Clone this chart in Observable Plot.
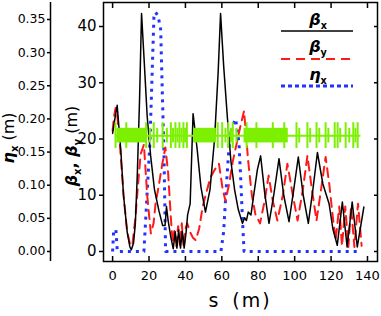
<!DOCTYPE html>
<html><head><meta charset="utf-8">
<script src="https://cdn.jsdelivr.net/npm/d3@7"></script>
<script src="https://cdn.jsdelivr.net/npm/@observablehq/plot@0.6"></script>
<style>html,body{margin:0;padding:0;background:#fff}</style>
</head><body><div id="chart"></div>
<script>
// ---- data ----
const betaXs = [0,1.2,2.5,3.5,4.5,6,8,9.5,10.3,11.5,12.5,13.6,14.8,15.9,17.5,19,20.9,23,25.4,27.5,28.8,29.6,30.5,32,33.3,34.4,35.3,36.3,37.3,38.3,39.3,40.3,41.2,42.6,44.2,46.5,48.5,51,53.5,56,58,59.3,61,63,65,67,69,71.3,72.5,73.5,74.5,76,77.5,79.5,81.3,83.5,85.9,88.5,91.4,94,96.9,99.5,102,104.7,107.5,110,112.5,115.5,118.9,121,123.4,126.2,128.8,131.6,134.4,138];
const betaXv = [21,23.5,26,22,18,10,3.5,0.8,0.3,1.5,5,14,27,42.3,33,24,17,11,7.3,4.6,4.6,8,5.5,2.5,0.5,3.5,0.6,3.8,0.6,3.6,0.6,3.2,6.5,8.5,24.5,18,11.5,7,11,20,32,42.3,33,24,16,11,7.5,5,6,5.5,7,6.5,10,14.5,17,10.5,5,10,16.5,10,5.3,11,16.8,10,5,11,17.6,12,8.5,4,1.1,8.8,0.8,8.8,0.8,7.9];
const betaYs = [0,0.8,1.6,2.5,4,6,8,9.8,11,12.5,14,15.4,17.2,19,21,22.5,23.6,25.5,27.3,29,30.5,32,33,34,35,36,37,38,39,40,41,42.5,44,45.6,47.5,49.5,51.5,53.8,56,58.4,60.5,62,64,66,68,70,72.2,74.5,76.5,78.5,81,83.5,85.7,88,90.5,93.5,96,99,101.6,104.5,107,109.5,112,114.5,117,119,121,122.5,124.5,126,127.8,129.5,131,132.8,134.8,136.8];
const betaYv = [21.5,24,25.5,24.5,19,10,3.5,1,1.5,6,12,17.3,19,10,3.2,5,8.5,12,15.6,18.5,14,6,1.5,4,0.8,4.5,1,5,0.8,4,5,3.5,2.5,2,4,8,10.5,13.2,14.5,15.6,11,9,12,16,19,22,25,16,10,6.5,5,9,13.5,9,5.5,10,15.6,10,5.5,11,17,11,5.5,11,16.8,12,6,2,8,1,8,0.8,8,0.8,8.5,1];
const etaS = [0,0.6,1.8,2.6,17.2,19,20.5,21.5,22.7,23.6,25,26.4,27.3,28.2,29.1,59.5,61,62.5,64,65.8,67.6,69.4,70.3,71.3,72.2,136.3];
const etaV = [0,0.032,0.033,0,0,0.09,0.165,0.25,0.354,0.361,0.355,0.335,0.24,0.15,0,0,0.03,0.1,0.16,0.19,0.2,0.164,0.114,0.05,0,0];
// lattice (magnet) markers, drawn on the beta axis
const latticeLevel = 20.6;
const latticeStart = 1.5, latticeEnd = 136.4;
const tallMagnets = [1.6,7.5,18.4,22.6,27.5,32.0,34.5,36.7,38.9,40.8,57.7,60.2,63.5,66.0,73.6,79.0,88.0,94.3,101.0,107.0,112.0,117.0,122.0,123.6,128.0,132.2,134.6];
const shortMagnets = [20.5,24.5,29.8,33.2,35.6,37.8,39.8,62,65,68,102.5,108.5,113.5,118.5,125,130,133.4];
const magnetBlockStart = [2.4,44.5,72.2];
const magnetBlockEnd = [18.6,57.0,96.5];
const tallHalf = 2.3, shortHalf = 1.3;
// ticks
const xTicks = [0,20,40,60,80,100,120,140];
const betaTicks = [0,10,20,30,40];
const etaTicks = [0,0.05,0.10,0.15,0.20,0.25,0.30,0.35];
const xDomain = [-5,145.5];
const yDomain = [-1.78,44.27];
const K = 117.85; // eta (m) -> beta-axis units

const betaX = betaXs.map((s,i)=>({s, v: betaXv[i]}));
const betaY = betaYs.map((s,i)=>({s, v: betaYv[i]}));
const eta = etaS.map((s,i)=>({s, v: etaV[i]}));
const blocks = magnetBlockStart.map((a,i)=>({a, b: magnetBlockEnd[i]}));

const GREEN = "#7cf000", RED = "#ff1a1a", BLUE = "#2233ff";

const chart = Plot.plot({
  width: 381, height: 316,
  marginLeft: 103, marginRight: 4, marginTop: 2, marginBottom: 55,
  x: {domain: xDomain},
  y: {domain: yDomain},
  style: {fontFamily: "DejaVu Sans", fontSize: "13px", color: "black", background: "white"},
  marks: [
    Plot.line(eta, {x: "s", y: d => d.v * K, stroke: BLUE, strokeWidth: 3, strokeDasharray: "3,5", strokeLinecap: "butt"}),
    Plot.line(betaY, {x: "s", y: "v", stroke: RED, strokeWidth: 2, strokeDasharray: "9,6"}),
    Plot.line(betaX, {x: "s", y: "v", stroke: "black", strokeWidth: 1.5}),
    Plot.ruleY([latticeLevel], {x1: latticeStart, x2: latticeEnd, stroke: GREEN, strokeWidth: 2}),
    Plot.rect(blocks, {x1: "a", x2: "b", y1: latticeLevel - shortHalf, y2: latticeLevel + shortHalf, fill: GREEN}),
    Plot.ruleX(tallMagnets, {y1: latticeLevel - tallHalf, y2: latticeLevel + tallHalf, stroke: GREEN, strokeWidth: 2}),
    Plot.ruleX(shortMagnets, {y1: latticeLevel - shortHalf, y2: latticeLevel + shortHalf, stroke: GREEN, strokeWidth: 2}),
    Plot.frame({stroke: "black", strokeWidth: 1.5}),
    Plot.axisY(betaTicks, {anchor: "left", tickSize: 4, tickPadding: 3, fontSize: 15, label: null, strokeWidth: 1.5}),
    Plot.axisY(betaTicks, {anchor: "right", tickSize: -4, tickFormat: () => "", label: null, strokeWidth: 1.5}),
    Plot.axisX(xTicks, {anchor: "bottom", tickSize: -5, tickPadding: 14, fontSize: 13, label: null, strokeWidth: 1.5}),
    Plot.axisX(xTicks, {anchor: "top", tickSize: -5, tickFormat: () => "", label: null, strokeWidth: 1.5}),
    Plot.axisY(etaTicks.map(t => t * K), {anchor: "left", dx: -53, tickSize: 3, tickPadding: 2, fontSize: 12.5, tickFormat: d => (d / K).toFixed(2), label: null, strokeWidth: 1.5}),
    Plot.ruleX([xDomain[0]], {dx: -53, strokeWidth: 1.5})
  ]
});
document.getElementById("chart").appendChild(chart);

const svg = d3.select(chart);
function greek(g, sym, sub, size) {
  const t = g.append("text").attr("text-anchor", "middle").attr("font-family", "DejaVu Sans").attr("font-size", size);
  t.append("tspan").attr("font-style", "italic").attr("font-weight", "bold").text(sym);
  t.append("tspan").attr("font-size", size * 0.6).attr("font-weight", "bold").attr("dy", size * 0.25).text(sub);
  return t;
}
// legend
const leg = svg.append("g");
[[`β`, "x", 25, 31, "black", null, 1.5], [`β`, "y", 52, 59, RED, "9,6", 2], [`η`, "x", 80, 86, BLUE, "4,3", 3]].forEach(([s, sub, ty, ly, c, dash, w]) => {
  greek(leg, s, sub, 16).attr("x", 318).attr("y", ty);
  leg.append("line").attr("x1", 281).attr("x2", 353).attr("y1", ly).attr("y2", ly)
    .attr("stroke", c).attr("stroke-width", w).attr("stroke-dasharray", dash);
});
// axis titles
const t1 = svg.append("text").attr("transform", "translate(14,138) rotate(-90)").attr("text-anchor", "middle").attr("font-family", "DejaVu Sans").attr("font-size", 16);
t1.append("tspan").attr("font-style", "italic").attr("font-weight", "bold").text("η");
t1.append("tspan").attr("font-size", 10).attr("font-weight", "bold").attr("dy", 4).text("x");
t1.append("tspan").attr("dy", -4).text(" (m)");
const t2 = svg.append("text").attr("transform", "translate(77,146) rotate(-90)").attr("text-anchor", "middle").attr("font-family", "DejaVu Sans").attr("font-size", 16);
t2.append("tspan").attr("font-style", "italic").attr("font-weight", "bold").text("β");
t2.append("tspan").attr("font-size", 10).attr("font-weight", "bold").attr("dy", 4).text("x");
t2.append("tspan").attr("dy", -4).attr("font-weight", "bold").text(", ");
t2.append("tspan").attr("font-style", "italic").attr("font-weight", "bold").text("β");
t2.append("tspan").attr("font-size", 10).attr("font-weight", "bold").attr("dy", 4).text("y");
t2.append("tspan").attr("dy", -4).text(" (m)");
const xt = svg.append("text").attr("x", 240).attr("y", 307).attr("text-anchor", "middle").attr("font-family", "DejaVu Sans").attr("font-size", 19).attr("letter-spacing", 2);
xt.append("tspan").text("s");
xt.append("tspan").attr("dx", 12).text("(m)");
</script></body></html>
